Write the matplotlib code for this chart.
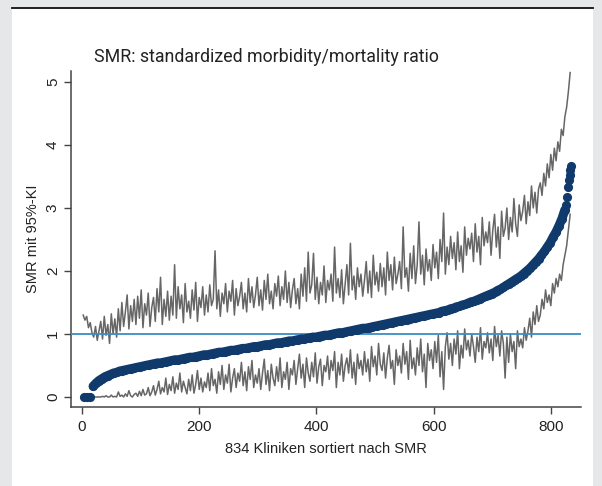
import matplotlib
matplotlib.use("Agg")
import matplotlib.pyplot as plt
from matplotlib import font_manager

# ---------------- data ----------------
# SMR point estimates (every 5th clinic rank, all of the top clinics)
rank_smr = list(range(4, 825, 5)) + [826, 828, 830, 831, 832, 833, 834]
smr = [0.00, 0.00, 0.00, 0.17, 0.22, 0.26, 0.29, 0.32, 0.34, 0.36,
       0.38, 0.39, 0.41, 0.42, 0.43, 0.44, 0.45, 0.46, 0.47, 0.48,
       0.49, 0.50, 0.51, 0.52, 0.53, 0.54, 0.54, 0.55, 0.56, 0.57,
       0.58, 0.59, 0.59, 0.60, 0.61, 0.62, 0.63, 0.63, 0.64, 0.65,
       0.66, 0.67, 0.67, 0.68, 0.69, 0.70, 0.71, 0.71, 0.72, 0.73,
       0.74, 0.74, 0.75, 0.76, 0.77, 0.77, 0.78, 0.79, 0.80, 0.80,
       0.81, 0.82, 0.83, 0.83, 0.84, 0.85, 0.86, 0.86, 0.87, 0.88,
       0.89, 0.89, 0.90, 0.91, 0.92, 0.92, 0.93, 0.94, 0.95, 0.95,
       0.96, 0.97, 0.98, 0.98, 0.99, 1.00, 1.01, 1.02, 1.02, 1.03,
       1.04, 1.05, 1.06, 1.07, 1.08, 1.09, 1.09, 1.10, 1.11, 1.12,
       1.13, 1.14, 1.15, 1.16, 1.17, 1.18, 1.19, 1.20, 1.21, 1.22,
       1.23, 1.24, 1.25, 1.26, 1.27, 1.28, 1.29, 1.30, 1.31, 1.32,
       1.33, 1.34, 1.36, 1.37, 1.38, 1.40, 1.41, 1.43, 1.44, 1.46,
       1.47, 1.49, 1.51, 1.52, 1.54, 1.56, 1.58, 1.60, 1.62, 1.64,
       1.66, 1.69, 1.71, 1.74, 1.77, 1.80, 1.83, 1.86, 1.89, 1.92,
       1.96, 2.00, 2.04, 2.09, 2.14, 2.19, 2.25, 2.31, 2.38, 2.45,
       2.54, 2.62, 2.72, 2.83, 2.97,
       3.05, 3.17, 3.33, 3.45, 3.52, 3.60, 3.67]

# 95% confidence limits (every 3rd clinic rank)
rank_ci = list(range(2, 835, 3))
upper = [1.30, 1.22, 1.28, 1.10, 1.18, 1.02, 0.95, 1.12, 0.90, 1.05,
         1.20, 0.92, 1.28, 0.98, 1.15, 0.85, 1.32, 1.00, 1.24, 0.95,
         1.40, 1.05, 1.50, 1.12, 1.35, 1.62, 1.08, 1.45, 1.20, 1.55,
         1.15, 1.60, 1.25, 1.70, 1.10, 1.48, 1.30, 1.65, 1.12, 1.42,
         1.58, 1.20, 1.72, 1.35, 1.90, 1.15, 1.55, 1.28, 1.68, 1.22,
         1.60, 1.30, 2.10, 1.25, 1.75, 1.40, 1.62, 1.18, 1.80, 1.35,
         1.52, 1.25, 1.70, 1.38, 1.82, 1.20, 1.58, 1.42, 1.75, 1.30,
         1.62, 1.35, 1.78, 1.45, 1.55, 2.32, 1.40, 1.70, 1.28, 1.65,
         1.48, 1.80, 1.35, 1.68, 1.52, 1.85, 1.30, 1.72, 1.45, 1.60,
         1.82, 1.40, 1.65, 1.35, 1.88, 1.50, 1.75, 1.42, 1.62, 1.90,
         1.45, 1.70, 1.38, 1.85, 1.55, 1.95, 1.48, 1.68, 1.40, 1.80,
         1.60, 1.92, 1.45, 1.75, 1.55, 2.00, 1.50, 1.82, 1.42, 1.70,
         1.88, 1.48, 1.72, 1.40, 1.95, 1.60, 2.05, 1.52, 2.30, 1.65,
         1.78, 2.28, 1.55, 1.90, 1.48, 1.82, 1.62, 2.08, 1.50, 1.85,
         1.70, 1.95, 1.52, 2.38, 1.65, 1.88, 1.58, 2.02, 1.48, 1.80,
         2.10, 1.62, 2.44, 1.70, 1.92, 1.55, 2.05, 1.75, 1.95, 1.60,
         1.85, 2.15, 1.65, 2.00, 1.58, 2.25, 1.78, 1.98, 1.68, 2.12,
         1.75, 2.05, 1.62, 2.30, 1.85, 2.10, 1.70, 2.22, 1.80, 1.95,
         2.15, 1.72, 2.70, 1.90, 2.05, 1.68, 2.28, 1.88, 2.40, 1.80,
         2.10, 2.78, 1.95, 2.25, 1.78, 2.35, 2.00, 2.18, 1.85, 2.42,
         2.05, 2.30, 1.88, 2.50, 2.15, 2.92, 1.95, 2.38, 2.10, 2.55,
         2.20, 2.45, 2.02, 2.62, 2.15, 2.40, 1.98, 2.70, 2.25, 2.52,
         2.35, 2.60, 2.15, 2.75, 2.30, 2.55, 2.10, 2.85, 2.40, 2.62,
         2.45, 2.78, 2.25, 2.65, 2.90, 2.38, 2.70, 2.20, 2.95, 2.55,
         2.68, 3.00, 2.50, 2.85, 2.62, 3.15, 2.75, 2.55, 3.05, 2.80,
         2.95, 3.20, 2.75, 3.10, 2.88, 3.35, 3.00, 3.25, 2.92, 3.30,
         3.40, 3.20, 3.55, 3.35, 3.70, 3.48, 3.85, 3.60, 3.95, 3.75,
         4.05, 3.90, 4.25, 4.15, 4.45, 4.60, 4.85, 5.15]
lower = [0.00, 0.00, 0.00, 0.00, 0.00, 0.00, 0.00, 0.00, 0.00, 0.00,
         0.00, 0.01, 0.00, 0.02, 0.00, 0.00, 0.03, 0.00, 0.01, 0.00,
         0.08, 0.01, 0.03, 0.00, 0.05, 0.01, 0.10, 0.02, 0.00, 0.04,
         0.06, 0.01, 0.09, 0.02, 0.12, 0.03, 0.05, 0.15, 0.02, 0.08,
         0.18, 0.03, 0.12, 0.25, 0.05, 0.15, 0.08, 0.30, 0.04, 0.20,
         0.10, 0.32, 0.06, 0.22, 0.12, 0.38, 0.08, 0.25, 0.15, 0.05,
         0.28, 0.10, 0.35, 0.06, 0.20, 0.42, 0.12, 0.30, 0.08, 0.24,
         0.15, 0.38, 0.10, 0.45, 0.18, 0.28, 0.06, 0.40, 0.20, 0.50,
         0.12, 0.35, 0.22, 0.52, 0.08, 0.30, 0.45, 0.15, 0.38, 0.25,
         0.55, 0.18, 0.40, 0.10, 0.48, 0.28, 0.58, 0.15, 0.35, 0.22,
         0.45, 0.12, 0.38, 0.60, 0.20, 0.42, 0.10, 0.52, 0.30, 0.18,
         0.48, 0.25, 0.62, 0.15, 0.40, 0.28, 0.55, 0.12, 0.45, 0.35,
         0.58, 0.20, 0.45, 0.68, 0.30, 0.52, 0.15, 0.62, 0.38, 0.25,
         0.55, 0.32, 0.70, 0.22, 0.48, 0.60, 0.18, 0.50, 0.40, 0.65,
         0.28, 0.58, 0.42, 0.72, 0.15, 0.55, 0.35, 0.68, 0.25, 0.50,
         0.62, 0.38, 0.75, 0.30, 0.55, 0.20, 0.68, 0.45, 0.58, 0.35,
         0.72, 0.40, 0.60, 0.25, 0.80, 0.48, 0.65, 0.35, 0.85, 0.52,
         0.42, 0.70, 0.30, 0.62, 0.82, 0.45, 0.58, 0.20, 0.75, 0.50,
         0.65, 0.38, 0.85, 0.52, 0.72, 0.28, 0.90, 0.45, 0.62, 0.35,
         0.78, 0.50, 0.92, 0.40, 0.68, 0.15, 0.85, 0.58, 0.75, 0.45,
         0.88, 0.55, 0.98, 0.32, 0.72, 0.12, 0.80, 1.02, 0.60, 0.85,
         0.50, 0.92, 0.68, 1.05, 0.45, 0.82, 0.62, 1.08, 0.75, 0.90,
         0.65, 1.00, 0.80, 0.55, 0.95, 0.72, 1.10, 0.60, 0.88, 0.78,
         1.02, 0.70, 0.92, 0.58, 1.12, 0.80, 0.98, 0.65, 1.05, 0.85,
         0.30, 0.95, 0.55, 1.00, 0.72, 0.88, 0.45, 1.05, 0.80, 0.92,
         0.78, 1.10, 0.90, 1.05, 1.25, 0.95, 1.35, 1.15, 1.45, 1.20,
         1.30, 1.55, 1.40, 1.70, 1.50, 1.62, 1.45, 1.80, 1.65, 1.88,
         1.75, 1.95, 1.85, 2.10, 2.25, 2.40, 2.65, 2.90]

xticks = [0, 200, 400, 600, 800]
yticks = [0, 1, 2, 3, 4, 5]
reference_value = 1
title = "SMR: standardized morbidity/mortality ratio"
xlabel = "834 Kliniken sortiert nach SMR"
ylabel = "SMR mit 95%-KI"

# ---------------- style ----------------
available = {f.name for f in font_manager.fontManager.ttflist}
title_font = "Liberation Sans Narrow" if "Liberation Sans Narrow" in available else "Roboto"
axis_font = "Liberation Sans" if "Liberation Sans" in available else "DejaVu Sans"

W, H = 602, 486
fig = plt.figure(figsize=(W / 100, H / 100), dpi=100)
fig.patch.set_facecolor("#e6e7e8")

# white panel and top rule (behind the axes)
fig.patches.append(plt.Rectangle((12 / W, 0), (593 - 12) / W, 1 - 9 / H,
                                 transform=fig.transFigure, facecolor="white",
                                 edgecolor="none", zorder=-10))
fig.lines.append(plt.Line2D([12 / W, 593 / W], [1 - 8.5 / H, 1 - 8.5 / H],
                            transform=fig.transFigure, color="#111111", lw=1.3,
                            zorder=-5))

ax = fig.add_axes([71 / W, 1 - 407 / H, (581 - 71) / W, (407 - 71) / H])
ax.set_zorder(1)
ax.set_facecolor("white")
gray = "#666666"
ax.plot(rank_ci, upper, color=gray, lw=1.1, zorder=2)
ax.plot(rank_ci, lower, color=gray, lw=1.1, zorder=2)
ax.axhline(reference_value, color="#3a8ec6", lw=1.3, zorder=3)

navy = "#0f3a6b"
# dense dots form a continuous band in the body of the curve
ax.plot(rank_smr[3:165], smr[3:165], color=navy, lw=6.6,
        solid_capstyle="round", solid_joinstyle="round", zorder=4)
ax.plot(rank_smr, smr, linestyle="none", marker="o", ms=6.6,
        color=navy, markeredgewidth=0, zorder=4)

ax.set_xlim(-18.8, 851.5)
ax.set_ylim(-0.159, 5.175)
ax.set_xticks(xticks)
ax.set_yticks(yticks)
for s in ["top", "right"]:
    ax.spines[s].set_visible(False)
for s in ["left", "bottom"]:
    ax.spines[s].set_color("#444444")
    ax.spines[s].set_linewidth(1.1)
ax.tick_params(axis="both", direction="out", length=5, width=1.0,
               color="#444444", labelcolor="#222222", labelsize=11)
ax.tick_params(axis="x", pad=4)
ax.tick_params(axis="y", pad=3)
for lab in ax.get_yticklabels():
    lab.set_rotation(90)
    lab.set_va("center")
    lab.set_fontfamily(axis_font)
for lab in ax.get_xticklabels():
    lab.set_fontfamily(axis_font)

ax.set_xlabel(xlabel, fontsize=10.5, family=axis_font, color="#222222", labelpad=6)
ax.set_ylabel(ylabel, fontsize=10.5, family=axis_font, color="#222222")
ax.yaxis.set_label_coords(-0.06, 0.50)

fig.text(94 / W, 1 - 62 / H, title, fontsize=12.8, family=title_font,
         color="#222222", ha="left", va="baseline")

fig.savefig("out.png", dpi=100, facecolor=fig.get_facecolor())
